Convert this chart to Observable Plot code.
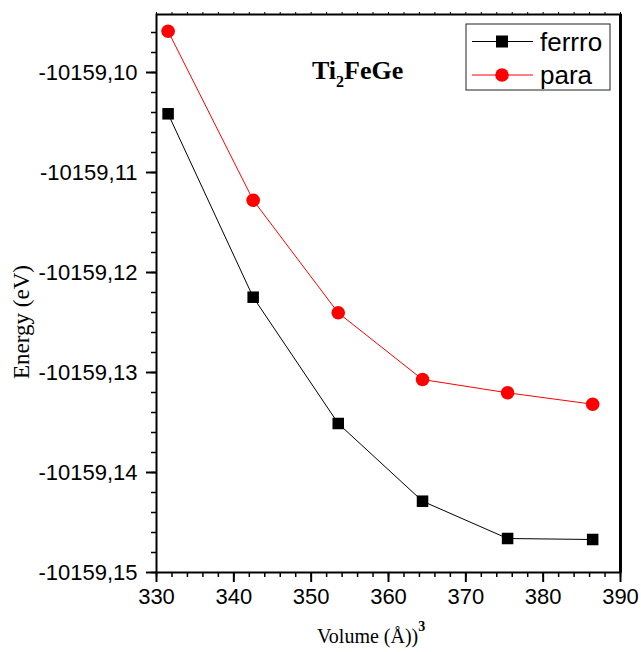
<!DOCTYPE html>
<html><head><meta charset="utf-8">
<script src="https://cdn.jsdelivr.net/npm/d3@7"></script>
<script src="https://cdn.jsdelivr.net/npm/@observablehq/plot@0.6"></script>
<style>body{margin:0;background:#fff} #chart svg{display:block;background:#fff}</style>
</head><body><div id="chart"></div>
<script>
// ---- data ----
const volumes = [331.5, 342.5, 353.5, 364.4, 375.4, 386.4];
const ferroEnergy = [-10159.10413, -10159.12247, -10159.13510, -10159.14287, -10159.14660, -10159.14670];
const paraEnergy  = [-10159.09587, -10159.11277, -10159.12403, -10159.13070, -10159.13203, -10159.13317];
const seriesNames = ["ferrro", "para"];
const seriesColors = ["#000000", "#ff0000"];
const seriesSymbols = ["square", "circle"];
const xTicks = [330, 340, 350, 360, 370, 380, 390];
const yTicks = [-10159.15, -10159.14, -10159.13, -10159.12, -10159.11, -10159.10];
const titleParts = ["Ti", "2", "FeGe"];
const xLabel = "Volume (Å))";
const xLabelSup = "3";
const yLabel = "Energy (eV)";

const xDomain = [330, 390];
const yDomain = [-10159.15, -10159.0942];

const ferro = volumes.map((v, i) => ({series: seriesNames[0], volume: v, energy: ferroEnergy[i]}));
const para = volumes.map((v, i) => ({series: seriesNames[1], volume: v, energy: paraEnergy[i]}));

const xMinor = d3.range(xDomain[0], xDomain[1] + 0.001, 2);
const yMinor = d3.range(0, 28).map(i => yTicks[0] + i * 0.002);
const fmt = d => d.toFixed(2).replace(".", ",");

const sans = "'Liberation Sans', Arial, sans-serif";
const serif = "'Liberation Serif', 'Times New Roman', serif";

function titleMark(index, scales, values, dim) {
  const g = d3.create("svg:g");
  const t = g.append("text")
    .attr("x", dim.marginLeft + 156).attr("y", dim.marginTop + 65)
    .attr("text-anchor", "start")
    .attr("font-family", serif).attr("font-weight", "bold").attr("font-size", 26).attr("fill", "black");
  t.append("tspan").text(titleParts[0]);
  t.append("tspan").text(titleParts[1]).attr("font-size", 16).attr("dy", 8);
  t.append("tspan").text(titleParts[2]).attr("dy", -8);
  return g.node();
}

function xLabelMark(index, scales, values, dim) {
  const g = d3.create("svg:g");
  const t = g.append("text")
    .attr("x", dim.marginLeft + 161).attr("y", dim.height - 9)
    .attr("text-anchor", "start")
    .attr("font-family", serif).attr("font-size", 20).attr("fill", "black");
  t.append("tspan").text(xLabel);
  t.append("tspan").text(xLabelSup).attr("font-size", 14).attr("font-weight", "bold").attr("dy", -12);
  return g.node();
}

function yLabelMark(index, scales, values, dim) {
  const g = d3.create("svg:g");
  const cy = (dim.marginTop + dim.height - dim.marginBottom) / 2 + 29;
  g.append("text")
    .attr("transform", `translate(${dim.marginLeft - 127},${cy}) rotate(-90)`)
    .attr("text-anchor", "middle")
    .attr("font-family", serif).attr("font-size", 23).attr("fill", "black")
    .text(yLabel);
  return g.node();
}

function legendMark(index, scales, values, dim) {
  const g = d3.create("svg:g");
  const right = dim.width - dim.marginRight;
  const top = dim.marginTop;
  const bx = right - 154, by = top + 10, bw = 144, bh = 66;
  g.append("rect").attr("x", bx).attr("y", by).attr("width", bw).attr("height", bh)
    .attr("fill", "white").attr("stroke", "#222").attr("stroke-width", 1);
  const rowsY = [by + 17.5, by + 51];
  seriesNames.forEach((name, i) => {
    const y = rowsY[i];
    g.append("line").attr("x1", bx + 6).attr("x2", bx + 67).attr("y1", y).attr("y2", y)
      .attr("stroke", seriesColors[i]).attr("stroke-width", 1);
    if (seriesSymbols[i] === "square") {
      g.append("rect").attr("x", bx + 36 - 6).attr("y", y - 6).attr("width", 12).attr("height", 12).attr("fill", seriesColors[i]);
    } else {
      g.append("circle").attr("cx", bx + 36).attr("cy", y).attr("r", 6.8).attr("fill", seriesColors[i]);
    }
    g.append("text").attr("x", bx + 74).attr("y", y).attr("dy", "0.36em")
      .attr("text-anchor", "start")
      .attr("font-family", sans).attr("font-size", 26).attr("fill", "black").text(name);
  });
  return g.node();
}

const chart = Plot.plot({
  width: 641,
  height: 652,
  marginLeft: 156,
  marginRight: 21,
  marginTop: 14,
  marginBottom: 80,
  x: {domain: xDomain},
  y: {domain: yDomain},
  style: {background: "white", overflow: "visible"},
  marks: [
    Plot.axisY(yMinor, {tickSize: 5, text: null, strokeWidth: 1.5, label: null}),
    Plot.axisY(yTicks, {tickSize: 10, tickPadding: 9, tickFormat: fmt, fontSize: 22, fontFamily: sans, strokeWidth: 2, label: null, color: "black"}),
    Plot.axisX(xMinor, {tickSize: 5, text: null, strokeWidth: 1.5, label: null}),
    Plot.axisX(xTicks, {tickSize: 10, tickPadding: 6, fontSize: 22, fontFamily: sans, strokeWidth: 2, label: null, color: "black"}),
    Plot.axisX(xMinor, {anchor: "top", tickSize: 3, text: null, strokeWidth: 1, label: null}),
    Plot.frame({strokeWidth: 2, stroke: "black"}),
    Plot.ruleX([xDomain[1]], {strokeWidth: 3, stroke: "black"}),
    Plot.line(ferro, {x: "volume", y: "energy", stroke: seriesColors[0], strokeWidth: 1}),
    Plot.line(para, {x: "volume", y: "energy", stroke: seriesColors[1], strokeWidth: 1}),
    Plot.dot(ferro, {x: "volume", y: "energy", symbol: seriesSymbols[0], r: 6.5, fill: seriesColors[0]}),
    Plot.dot(para, {x: "volume", y: "energy", symbol: seriesSymbols[1], r: 6.8, fill: seriesColors[1]}),
    yLabelMark,
    titleMark,
    legendMark,
    xLabelMark
  ]
});
document.getElementById("chart").appendChild(chart);
</script>
</body></html>
